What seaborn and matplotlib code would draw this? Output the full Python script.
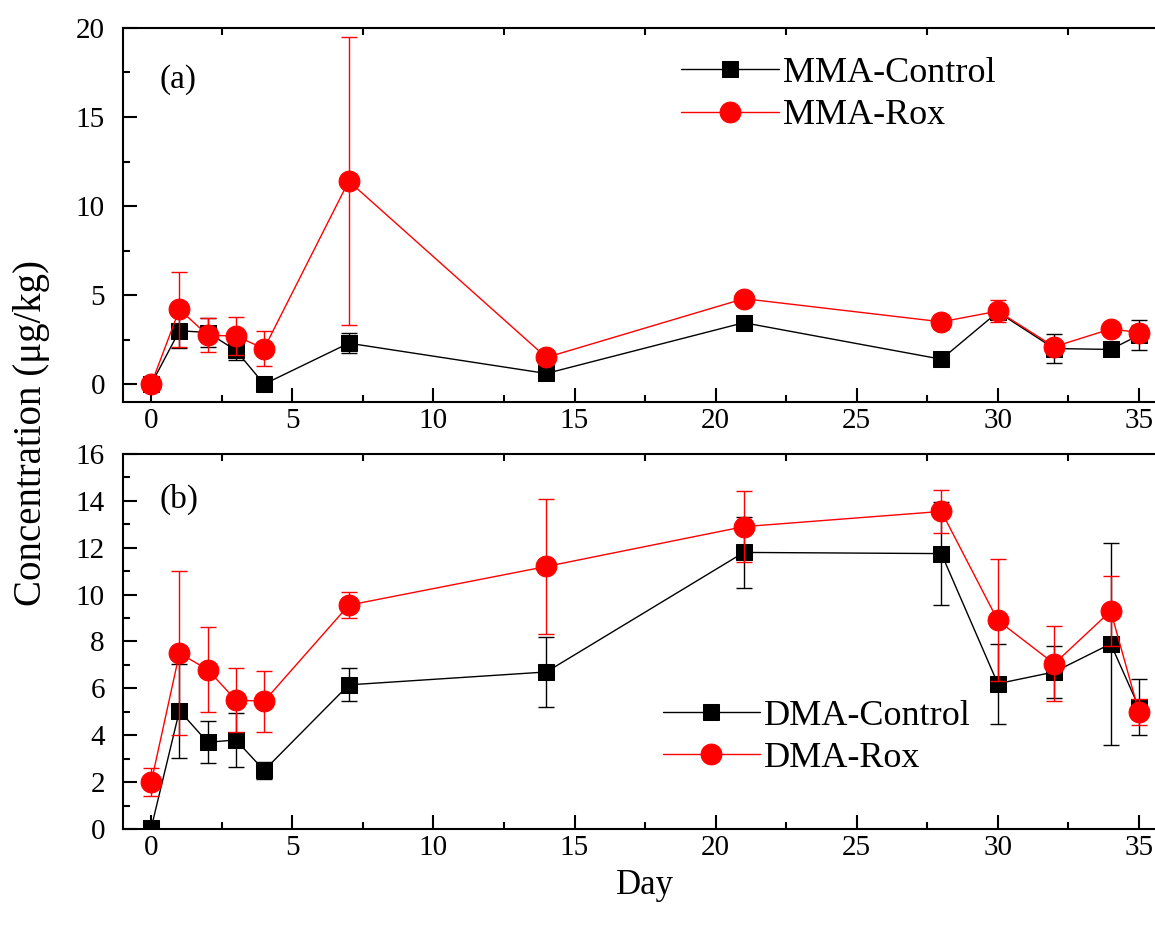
import numpy as np
import pandas as pd
import matplotlib
matplotlib.use("Agg")
import matplotlib.pyplot as plt
from matplotlib.ticker import MultipleLocator
import seaborn as sns

# ── Data ───────────────────────────────────────────────────────────────────────
days = [0, 1, 2, 3, 4, 7, 14, 21, 28, 30, 32, 34, 35]

mma_control     = [0.0, 3.0, 2.9, 1.9, 0.0, 2.3, 0.6, 3.45, 1.4, 4.05, 2.0, 1.95, 2.75]
mma_control_err = [0.1, 0.95, 0.8, 0.55, 0.1, 0.55, 0.1, 0.2, 0.2, 0.4, 0.83, 0.15, 0.85]
mma_rox         = [0.0, 4.2, 2.75, 2.7, 2.0, 11.4, 1.5, 4.8, 3.5, 4.1, 2.1, 3.1, 2.9]
mma_rox_err     = [0.1, 2.1, 0.95, 1.05, 1.0, 8.1, 0.15, 0.3, 0.4, 0.6, 0.2, 0.3, 0.4]

dma_control     = [0.05, 5.05, 3.7, 3.8, 2.5, 6.15, 6.7, 11.8, 11.75, 6.2, 6.7, 7.9, 5.2]
dma_control_err = [0.2, 2.0, 0.9, 1.15, 0.35, 0.7, 1.5, 1.5, 2.2, 1.7, 1.1, 4.3, 1.2]
dma_rox         = [2.0, 7.5, 6.8, 5.5, 5.45, 9.55, 11.2, 12.9, 13.55, 8.9, 7.05, 9.3, 5.0]
dma_rox_err     = [0.6, 3.5, 1.8, 1.35, 1.3, 0.55, 2.9, 1.5, 0.9, 2.6, 1.6, 1.5, 0.55]

COL_CTRL = "black"
COL_ROX = "#ff0000"

sns.set_style("ticks")
plt.rcParams["font.family"] = ["Liberation Serif", "DejaVu Serif"]
plt.rcParams["text.color"] = "black"
plt.rcParams["axes.labelcolor"] = "black"
plt.rcParams["xtick.color"] = "black"
plt.rcParams["ytick.color"] = "black"
plt.rcParams["axes.edgecolor"] = "black"

fig = plt.figure(figsize=(11.55, 9.32), dpi=100)
ax_top = fig.add_axes([0.1065, 0.5687, 0.9040, 0.4013])
ax_bot = fig.add_axes([0.1065, 0.1105, 0.9040, 0.4024])


def draw_panel(ax, ctrl, ctrl_err, rox, rox_err, labels):
    df = pd.DataFrame({"Day": days, "ctrl": ctrl, "rox": rox})
    ax.errorbar(days, ctrl, yerr=ctrl_err, fmt="none", ecolor=COL_CTRL,
                elinewidth=1.0, capsize=6, capthick=1.0, zorder=2)
    sns.lineplot(data=df, x="Day", y="ctrl", ax=ax, color=COL_CTRL,
                 marker="s", markersize=12, markeredgecolor=COL_CTRL,
                 linewidth=1.0, label=labels[0], zorder=3)
    ax.errorbar(days, rox, yerr=rox_err, fmt="none", ecolor=COL_ROX,
                elinewidth=1.0, capsize=6, capthick=1.0, zorder=4)
    sns.lineplot(data=df, x="Day", y="rox", ax=ax, color=COL_ROX,
                 marker="o", markersize=15, markeredgecolor=COL_ROX,
                 linewidth=1.0, label=labels[1], zorder=5)
    ax.set_xlim(-1, 36)
    ax.xaxis.set_major_locator(MultipleLocator(5))
    ax.xaxis.set_minor_locator(MultipleLocator(2.5))
    ax.tick_params(which="major", direction="in", length=10, width=1.5,
                   labelsize=21, top=False, right=False)
    ax.tick_params(axis="x", which="major", pad=4)
    ax.tick_params(axis="y", which="major", pad=13)
    ax.tick_params(which="minor", direction="in", length=5, width=1.5,
                   right=False)
    ax.tick_params(axis="x", which="minor", top=True)
    for sp in ax.spines.values():
        sp.set_visible(True)
        sp.set_linewidth(1.5)
    ax.set_xlabel("")
    ax.set_ylabel("")


draw_panel(ax_top, mma_control, mma_control_err, mma_rox, mma_rox_err,
           ["MMA-Control", "MMA-Rox"])
ax_top.set_ylim(-1, 20)
ax_top.yaxis.set_major_locator(MultipleLocator(5))
ax_top.yaxis.set_minor_locator(MultipleLocator(2.5))
ax_top.text(0.035, 0.84, "(a)", transform=ax_top.transAxes, fontsize=24)
ax_top.legend(loc="upper left", bbox_to_anchor=(0.521, 0.962), frameon=False,
              fontsize=26, handlelength=2.7, handletextpad=0.1,
              labelspacing=0.25, borderaxespad=0)

draw_panel(ax_bot, dma_control, dma_control_err, dma_rox, dma_rox_err,
           ["DMA-Control", "DMA-Rox"])
ax_bot.set_ylim(0, 16)
ax_bot.yaxis.set_major_locator(MultipleLocator(2))
ax_bot.yaxis.set_minor_locator(MultipleLocator(1))
ax_bot.text(0.035, 0.857, "(b)", transform=ax_bot.transAxes, fontsize=24)
ax_bot.legend(loc="upper left", bbox_to_anchor=(0.503, 0.384), frameon=False,
              fontsize=26, handlelength=2.7, handletextpad=0.1,
              labelspacing=0.25, borderaxespad=0)
ax_bot.set_xlabel("Day", fontsize=25, labelpad=6)

fig.text(0.027, 0.535, "Concentration (μg/kg)", rotation=90, fontsize=28,
         ha="center", va="center")

fig.savefig("out.png", dpi=100)
